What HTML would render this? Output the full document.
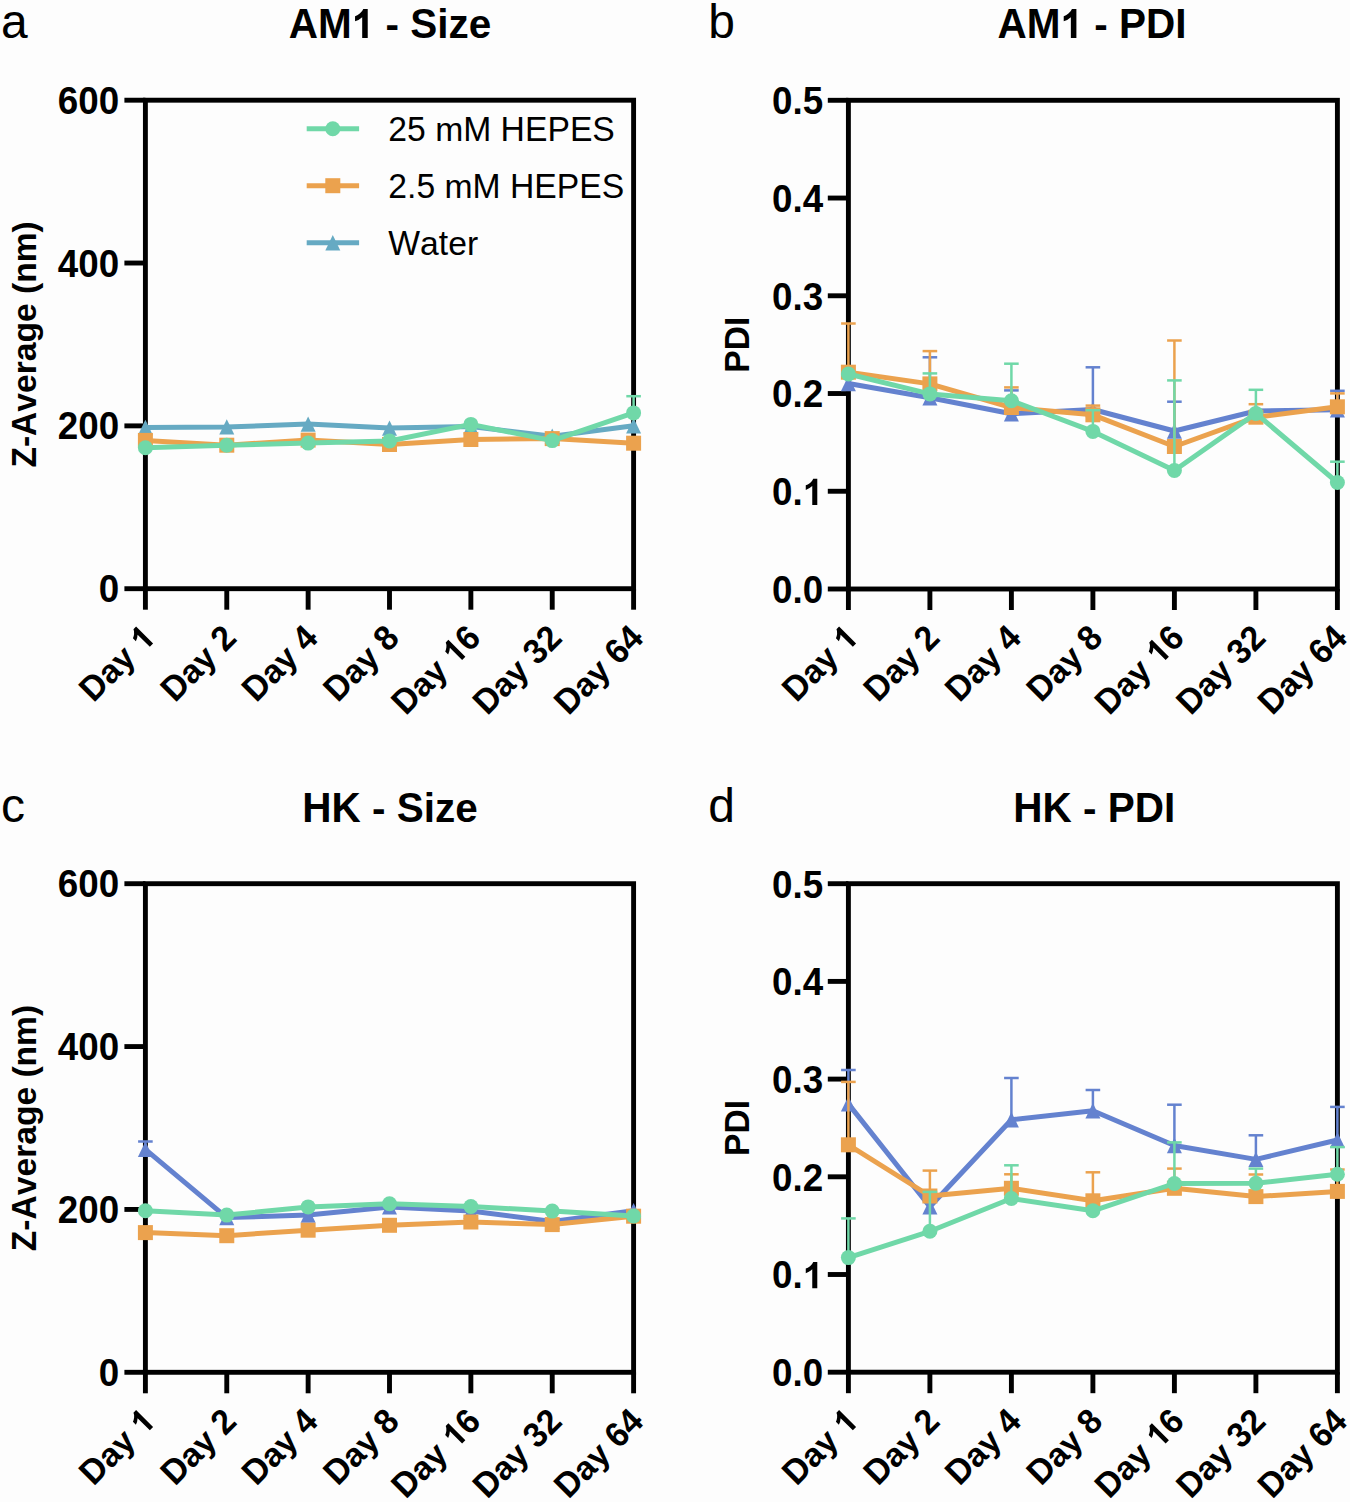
<!DOCTYPE html>
<html><head><meta charset="utf-8"><title>AM1 / HK nanoparticle stability (Z-Average and PDI)</title>
<style>
html,body{margin:0;padding:0;background:#fdfdfd;}
body{width:1350px;height:1502px;overflow:hidden;}
svg{display:block;}
text{font-family:"Liberation Sans",sans-serif;fill:#000;font-kerning:none;white-space:pre;}
.b{font-weight:bold;}
.r{font-weight:normal;}
</style></head>
<body>
<svg width="1350" height="1502" viewBox="0 0 1350 1502">
<rect x="0" y="0" width="1350" height="1502" fill="#fdfdfd"/>
<rect x="145.4" y="100.2" width="488.2" height="488.5" fill="none" stroke="#000" stroke-width="4.9" stroke-linejoin="miter"/>
<line x1="124.4" y1="588.7" x2="145.4" y2="588.7" stroke="#000" stroke-width="4.9"/>
<line x1="124.4" y1="425.87" x2="145.4" y2="425.87" stroke="#000" stroke-width="4.9"/>
<line x1="124.4" y1="263.03" x2="145.4" y2="263.03" stroke="#000" stroke-width="4.9"/>
<line x1="124.4" y1="100.2" x2="145.4" y2="100.2" stroke="#000" stroke-width="4.9"/>
<line x1="145.4" y1="588.7" x2="145.4" y2="609.7" stroke="#000" stroke-width="4.9"/>
<line x1="226.77" y1="588.7" x2="226.77" y2="609.7" stroke="#000" stroke-width="4.9"/>
<line x1="308.13" y1="588.7" x2="308.13" y2="609.7" stroke="#000" stroke-width="4.9"/>
<line x1="389.5" y1="588.7" x2="389.5" y2="609.7" stroke="#000" stroke-width="4.9"/>
<line x1="470.87" y1="588.7" x2="470.87" y2="609.7" stroke="#000" stroke-width="4.9"/>
<line x1="552.23" y1="588.7" x2="552.23" y2="609.7" stroke="#000" stroke-width="4.9"/>
<line x1="633.6" y1="588.7" x2="633.6" y2="609.7" stroke="#000" stroke-width="4.9"/>
<text transform="translate(119.2,602.3) translate(-20.469,0.000) scale(1,1.0412)" class="b" font-size="36.8">0</text>
<text transform="translate(119.2,439.47) translate(-61.406,0.000) scale(1,1.0412)" class="b" font-size="36.8">200</text>
<text transform="translate(119.2,276.63) translate(-61.406,0.000) scale(1,1.0412)" class="b" font-size="36.8">400</text>
<text transform="translate(119.2,113.8) translate(-61.406,0.000) scale(1,1.0412)" class="b" font-size="36.8">600</text>
<text transform="translate(148.4,631.3) rotate(-45) translate(0,12.03) translate(-89.609,0.000) scale(1,1.0412)" class="b" font-size="33.6">D</text><text transform="translate(148.4,631.3) rotate(-45) translate(0,12.03) translate(-65.375,0.000) scale(1,0.9855)" class="b" font-size="33.6">ay</text><path d="M810 0H530V1055Q377 912 169 843V1097Q278 1133 407 1233Q536 1333 584 1466H810Z" transform="translate(148.4,631.3) rotate(-45) translate(0,12.03) translate(-18.688,0.000) scale(0.016406,-0.016406)"/>
<text transform="translate(229.77,631.3) rotate(-45) translate(0,12.03) translate(-89.609,0.000) scale(1,1.0412)" class="b" font-size="33.6">D</text><text transform="translate(229.77,631.3) rotate(-45) translate(0,12.03) translate(-65.375,0.000) scale(1,0.9855)" class="b" font-size="33.6">ay</text><text transform="translate(229.77,631.3) rotate(-45) translate(0,12.03) translate(-18.688,0.000) scale(1,1.0412)" class="b" font-size="33.6">2</text>
<text transform="translate(311.13,631.3) rotate(-45) translate(0,12.03) translate(-89.609,0.000) scale(1,1.0412)" class="b" font-size="33.6">D</text><text transform="translate(311.13,631.3) rotate(-45) translate(0,12.03) translate(-65.375,0.000) scale(1,0.9855)" class="b" font-size="33.6">ay</text><text transform="translate(311.13,631.3) rotate(-45) translate(0,12.03) translate(-18.688,0.000) scale(1,1.0412)" class="b" font-size="33.6">4</text>
<text transform="translate(392.5,631.3) rotate(-45) translate(0,12.03) translate(-89.609,0.000) scale(1,1.0412)" class="b" font-size="33.6">D</text><text transform="translate(392.5,631.3) rotate(-45) translate(0,12.03) translate(-65.375,0.000) scale(1,0.9855)" class="b" font-size="33.6">ay</text><text transform="translate(392.5,631.3) rotate(-45) translate(0,12.03) translate(-18.688,0.000) scale(1,1.0412)" class="b" font-size="33.6">8</text>
<text transform="translate(473.87,631.3) rotate(-45) translate(0,12.03) translate(-108.281,0.000) scale(1,1.0412)" class="b" font-size="33.6">D</text><text transform="translate(473.87,631.3) rotate(-45) translate(0,12.03) translate(-84.047,0.000) scale(1,0.9855)" class="b" font-size="33.6">ay</text><path d="M810 0H530V1055Q377 912 169 843V1097Q278 1133 407 1233Q536 1333 584 1466H810Z" transform="translate(473.87,631.3) rotate(-45) translate(0,12.03) translate(-37.359,0.000) scale(0.016406,-0.016406)"/><text transform="translate(473.87,631.3) rotate(-45) translate(0,12.03) translate(-18.688,0.000) scale(1,1.0412)" class="b" font-size="33.6">6</text>
<text transform="translate(555.23,631.3) rotate(-45) translate(0,12.03) translate(-108.281,0.000) scale(1,1.0412)" class="b" font-size="33.6">D</text><text transform="translate(555.23,631.3) rotate(-45) translate(0,12.03) translate(-84.047,0.000) scale(1,0.9855)" class="b" font-size="33.6">ay</text><text transform="translate(555.23,631.3) rotate(-45) translate(0,12.03) translate(-37.359,0.000) scale(1,1.0412)" class="b" font-size="33.6">32</text>
<text transform="translate(636.6,631.3) rotate(-45) translate(0,12.03) translate(-108.281,0.000) scale(1,1.0412)" class="b" font-size="33.6">D</text><text transform="translate(636.6,631.3) rotate(-45) translate(0,12.03) translate(-84.047,0.000) scale(1,0.9855)" class="b" font-size="33.6">ay</text><text transform="translate(636.6,631.3) rotate(-45) translate(0,12.03) translate(-37.359,0.000) scale(1,1.0412)" class="b" font-size="33.6">64</text>
<text transform="translate(35.8,344.45) rotate(-90) translate(-123.141,0.000) scale(1,1.0412)" class="b" font-size="33.6">Z</text><text transform="translate(35.8,344.45) rotate(-90) translate(-102.641,0.000)" class="b" font-size="33.6">-</text><text transform="translate(35.8,344.45) rotate(-90) translate(-91.453,0.000) scale(1,1.0412)" class="b" font-size="33.6">A</text><text transform="translate(35.8,344.45) rotate(-90) translate(-67.203,0.000) scale(1,0.9855)" class="b" font-size="33.6">verage</text><text transform="translate(35.8,344.45) rotate(-90) translate(50.406,0.000) scale(1,0.9879)" class="b" font-size="33.6">(</text><text transform="translate(35.8,344.45) rotate(-90) translate(61.578,0.000) scale(1,0.9855)" class="b" font-size="33.6">nm</text><text transform="translate(35.8,344.45) rotate(-90) translate(111.953,0.000) scale(1,0.9879)" class="b" font-size="33.6">)</text>
<text transform="translate(390,38) translate(-101.273,0.000) scale(1,1.0412)" class="b" font-size="40.5">AM</text><path d="M810 0H530V1055Q377 912 169 843V1097Q278 1133 407 1233Q536 1333 584 1466H810Z" transform="translate(390,38) translate(-38.289,0.000) scale(0.019775,-0.019775)"/><text transform="translate(390,38) translate(-4.523,0.000)" class="b" font-size="40.5">-</text><text transform="translate(390,38) translate(20.227,0.000) scale(1,1.0412)" class="b" font-size="40.5">S</text><text transform="translate(390,38) translate(47.227,0.000) scale(1,0.9879)" class="b" font-size="40.5">i</text><text transform="translate(390,38) translate(58.477,0.000) scale(1,0.9855)" class="b" font-size="40.5">ze</text>
<text transform="translate(0.9,38) translate(0.000,0.000) scale(1,0.9855)" class="r" font-size="48.0">a</text>
<polyline points="145.4,427.5 226.77,426.9 308.13,424.1 389.5,428.1 470.87,426.5 552.23,436.3 633.6,425.8" fill="none" stroke="#66AAC3" stroke-width="5.0" stroke-linejoin="round"/>
<polygon points="145.4,419.8 152.9,435.2 137.9,435.2" fill="#66AAC3"/>
<polygon points="226.77,419.2 234.27,434.6 219.27,434.6" fill="#66AAC3"/>
<polygon points="308.13,416.4 315.63,431.8 300.63,431.8" fill="#66AAC3"/>
<polygon points="389.5,420.4 397,435.8 382,435.8" fill="#66AAC3"/>
<polygon points="470.87,418.8 478.37,434.2 463.37,434.2" fill="#66AAC3"/>
<polygon points="552.23,428.6 559.73,444 544.73,444" fill="#66AAC3"/>
<polygon points="633.6,418.1 641.1,433.5 626.1,433.5" fill="#66AAC3"/>
<polyline points="145.4,440.4 226.77,445.2 308.13,440.1 389.5,444.5 470.87,439.5 552.23,438.6 633.6,443.2" fill="none" stroke="#EBA24E" stroke-width="5.0" stroke-linejoin="round"/>
<rect x="137.9" y="432.9" width="15.0" height="15.0" fill="#EBA24E"/>
<rect x="219.27" y="437.7" width="15.0" height="15.0" fill="#EBA24E"/>
<rect x="300.63" y="432.6" width="15.0" height="15.0" fill="#EBA24E"/>
<rect x="382" y="437" width="15.0" height="15.0" fill="#EBA24E"/>
<rect x="463.37" y="432" width="15.0" height="15.0" fill="#EBA24E"/>
<rect x="544.73" y="431.1" width="15.0" height="15.0" fill="#EBA24E"/>
<rect x="626.1" y="435.7" width="15.0" height="15.0" fill="#EBA24E"/>
<polyline points="145.4,447.7 226.77,445.2 308.13,443.1 389.5,441 470.87,424.4 552.23,440.6 633.6,412.9" fill="none" stroke="#70D8A8" stroke-width="5.0" stroke-linejoin="round"/>
<line x1="633.6" y1="412.9" x2="633.6" y2="396.2" stroke="#70D8A8" stroke-width="2.5"/>
<line x1="626.3" y1="396.2" x2="640.9" y2="396.2" stroke="#70D8A8" stroke-width="2.5"/>
<circle cx="145.4" cy="447.7" r="7.5" fill="#70D8A8"/>
<circle cx="226.77" cy="445.2" r="7.5" fill="#70D8A8"/>
<circle cx="308.13" cy="443.1" r="7.5" fill="#70D8A8"/>
<circle cx="389.5" cy="441" r="7.5" fill="#70D8A8"/>
<circle cx="470.87" cy="424.4" r="7.5" fill="#70D8A8"/>
<circle cx="552.23" cy="440.6" r="7.5" fill="#70D8A8"/>
<circle cx="633.6" cy="412.9" r="7.5" fill="#70D8A8"/>
<rect x="848.4" y="100.3" width="489" height="488.7" fill="none" stroke="#000" stroke-width="4.9" stroke-linejoin="miter"/>
<line x1="827.8" y1="589" x2="848.4" y2="589" stroke="#000" stroke-width="4.9"/>
<line x1="827.8" y1="491.26" x2="848.4" y2="491.26" stroke="#000" stroke-width="4.9"/>
<line x1="827.8" y1="393.52" x2="848.4" y2="393.52" stroke="#000" stroke-width="4.9"/>
<line x1="827.8" y1="295.78" x2="848.4" y2="295.78" stroke="#000" stroke-width="4.9"/>
<line x1="827.8" y1="198.04" x2="848.4" y2="198.04" stroke="#000" stroke-width="4.9"/>
<line x1="827.8" y1="100.3" x2="848.4" y2="100.3" stroke="#000" stroke-width="4.9"/>
<line x1="848.4" y1="589" x2="848.4" y2="610" stroke="#000" stroke-width="4.9"/>
<line x1="929.9" y1="589" x2="929.9" y2="610" stroke="#000" stroke-width="4.9"/>
<line x1="1011.4" y1="589" x2="1011.4" y2="610" stroke="#000" stroke-width="4.9"/>
<line x1="1092.9" y1="589" x2="1092.9" y2="610" stroke="#000" stroke-width="4.9"/>
<line x1="1174.4" y1="589" x2="1174.4" y2="610" stroke="#000" stroke-width="4.9"/>
<line x1="1255.9" y1="589" x2="1255.9" y2="610" stroke="#000" stroke-width="4.9"/>
<line x1="1337.4" y1="589" x2="1337.4" y2="610" stroke="#000" stroke-width="4.9"/>
<text transform="translate(823.2,602.8) translate(-51.156,0.000) scale(1,1.0412)" class="b" font-size="36.8">0</text><text transform="translate(823.2,602.8) translate(-30.703,0.000)" class="b" font-size="36.8">.</text><text transform="translate(823.2,602.8) translate(-20.469,0.000) scale(1,1.0412)" class="b" font-size="36.8">0</text>
<text transform="translate(823.2,505.06) translate(-51.156,0.000) scale(1,1.0412)" class="b" font-size="36.8">0</text><text transform="translate(823.2,505.06) translate(-30.703,0.000)" class="b" font-size="36.8">.</text><path d="M810 0H530V1055Q377 912 169 843V1097Q278 1133 407 1233Q536 1333 584 1466H810Z" transform="translate(823.2,505.06) translate(-20.469,0.000) scale(0.017969,-0.017969)"/>
<text transform="translate(823.2,407.32) translate(-51.156,0.000) scale(1,1.0412)" class="b" font-size="36.8">0</text><text transform="translate(823.2,407.32) translate(-30.703,0.000)" class="b" font-size="36.8">.</text><text transform="translate(823.2,407.32) translate(-20.469,0.000) scale(1,1.0412)" class="b" font-size="36.8">2</text>
<text transform="translate(823.2,309.58) translate(-51.156,0.000) scale(1,1.0412)" class="b" font-size="36.8">0</text><text transform="translate(823.2,309.58) translate(-30.703,0.000)" class="b" font-size="36.8">.</text><text transform="translate(823.2,309.58) translate(-20.469,0.000) scale(1,1.0412)" class="b" font-size="36.8">3</text>
<text transform="translate(823.2,211.84) translate(-51.156,0.000) scale(1,1.0412)" class="b" font-size="36.8">0</text><text transform="translate(823.2,211.84) translate(-30.703,0.000)" class="b" font-size="36.8">.</text><text transform="translate(823.2,211.84) translate(-20.469,0.000) scale(1,1.0412)" class="b" font-size="36.8">4</text>
<text transform="translate(823.2,114.1) translate(-51.156,0.000) scale(1,1.0412)" class="b" font-size="36.8">0</text><text transform="translate(823.2,114.1) translate(-30.703,0.000)" class="b" font-size="36.8">.</text><text transform="translate(823.2,114.1) translate(-20.469,0.000) scale(1,1.0412)" class="b" font-size="36.8">5</text>
<text transform="translate(851.4,631.3) rotate(-45) translate(0,12.03) translate(-89.609,0.000) scale(1,1.0412)" class="b" font-size="33.6">D</text><text transform="translate(851.4,631.3) rotate(-45) translate(0,12.03) translate(-65.375,0.000) scale(1,0.9855)" class="b" font-size="33.6">ay</text><path d="M810 0H530V1055Q377 912 169 843V1097Q278 1133 407 1233Q536 1333 584 1466H810Z" transform="translate(851.4,631.3) rotate(-45) translate(0,12.03) translate(-18.688,0.000) scale(0.016406,-0.016406)"/>
<text transform="translate(932.9,631.3) rotate(-45) translate(0,12.03) translate(-89.609,0.000) scale(1,1.0412)" class="b" font-size="33.6">D</text><text transform="translate(932.9,631.3) rotate(-45) translate(0,12.03) translate(-65.375,0.000) scale(1,0.9855)" class="b" font-size="33.6">ay</text><text transform="translate(932.9,631.3) rotate(-45) translate(0,12.03) translate(-18.688,0.000) scale(1,1.0412)" class="b" font-size="33.6">2</text>
<text transform="translate(1014.4,631.3) rotate(-45) translate(0,12.03) translate(-89.609,0.000) scale(1,1.0412)" class="b" font-size="33.6">D</text><text transform="translate(1014.4,631.3) rotate(-45) translate(0,12.03) translate(-65.375,0.000) scale(1,0.9855)" class="b" font-size="33.6">ay</text><text transform="translate(1014.4,631.3) rotate(-45) translate(0,12.03) translate(-18.688,0.000) scale(1,1.0412)" class="b" font-size="33.6">4</text>
<text transform="translate(1095.9,631.3) rotate(-45) translate(0,12.03) translate(-89.609,0.000) scale(1,1.0412)" class="b" font-size="33.6">D</text><text transform="translate(1095.9,631.3) rotate(-45) translate(0,12.03) translate(-65.375,0.000) scale(1,0.9855)" class="b" font-size="33.6">ay</text><text transform="translate(1095.9,631.3) rotate(-45) translate(0,12.03) translate(-18.688,0.000) scale(1,1.0412)" class="b" font-size="33.6">8</text>
<text transform="translate(1177.4,631.3) rotate(-45) translate(0,12.03) translate(-108.281,0.000) scale(1,1.0412)" class="b" font-size="33.6">D</text><text transform="translate(1177.4,631.3) rotate(-45) translate(0,12.03) translate(-84.047,0.000) scale(1,0.9855)" class="b" font-size="33.6">ay</text><path d="M810 0H530V1055Q377 912 169 843V1097Q278 1133 407 1233Q536 1333 584 1466H810Z" transform="translate(1177.4,631.3) rotate(-45) translate(0,12.03) translate(-37.359,0.000) scale(0.016406,-0.016406)"/><text transform="translate(1177.4,631.3) rotate(-45) translate(0,12.03) translate(-18.688,0.000) scale(1,1.0412)" class="b" font-size="33.6">6</text>
<text transform="translate(1258.9,631.3) rotate(-45) translate(0,12.03) translate(-108.281,0.000) scale(1,1.0412)" class="b" font-size="33.6">D</text><text transform="translate(1258.9,631.3) rotate(-45) translate(0,12.03) translate(-84.047,0.000) scale(1,0.9855)" class="b" font-size="33.6">ay</text><text transform="translate(1258.9,631.3) rotate(-45) translate(0,12.03) translate(-37.359,0.000) scale(1,1.0412)" class="b" font-size="33.6">32</text>
<text transform="translate(1340.4,631.3) rotate(-45) translate(0,12.03) translate(-108.281,0.000) scale(1,1.0412)" class="b" font-size="33.6">D</text><text transform="translate(1340.4,631.3) rotate(-45) translate(0,12.03) translate(-84.047,0.000) scale(1,0.9855)" class="b" font-size="33.6">ay</text><text transform="translate(1340.4,631.3) rotate(-45) translate(0,12.03) translate(-37.359,0.000) scale(1,1.0412)" class="b" font-size="33.6">64</text>
<text transform="translate(749.2,344.65) rotate(-90) translate(-27.992,0.000) scale(1,1.0412)" class="b" font-size="33.6">PDI</text>
<text transform="translate(1091.9,38) translate(-94.508,0.000) scale(1,1.0412)" class="b" font-size="40.5">AM</text><path d="M810 0H530V1055Q377 912 169 843V1097Q278 1133 407 1233Q536 1333 584 1466H810Z" transform="translate(1091.9,38) translate(-31.523,0.000) scale(0.019775,-0.019775)"/><text transform="translate(1091.9,38) translate(2.242,0.000)" class="b" font-size="40.5">-</text><text transform="translate(1091.9,38) translate(26.992,0.000) scale(1,1.0412)" class="b" font-size="40.5">PDI</text>
<text transform="translate(708.3,38) translate(0.000,0.000) scale(1,0.9879)" class="r" font-size="48.0">b</text>
<polyline points="848.4,383.5 929.9,397.7 1011.4,413.8 1092.9,409.5 1174.4,431 1255.9,411 1337.4,409.8" fill="none" stroke="#6482CF" stroke-width="5.0" stroke-linejoin="round"/>
<line x1="929.9" y1="397.7" x2="929.9" y2="357.3" stroke="#6482CF" stroke-width="2.5"/>
<line x1="922.6" y1="357.3" x2="937.2" y2="357.3" stroke="#6482CF" stroke-width="2.5"/>
<line x1="1011.4" y1="413.8" x2="1011.4" y2="390.4" stroke="#6482CF" stroke-width="2.5"/>
<line x1="1004.1" y1="390.4" x2="1018.7" y2="390.4" stroke="#6482CF" stroke-width="2.5"/>
<line x1="1092.9" y1="409.5" x2="1092.9" y2="367.3" stroke="#6482CF" stroke-width="2.5"/>
<line x1="1085.6" y1="367.3" x2="1100.2" y2="367.3" stroke="#6482CF" stroke-width="2.5"/>
<line x1="1174.4" y1="431" x2="1174.4" y2="401.7" stroke="#6482CF" stroke-width="2.5"/>
<line x1="1167.1" y1="401.7" x2="1181.7" y2="401.7" stroke="#6482CF" stroke-width="2.5"/>
<line x1="1337.4" y1="409.8" x2="1337.4" y2="390.8" stroke="#6482CF" stroke-width="2.5"/>
<line x1="1330.1" y1="390.8" x2="1344.7" y2="390.8" stroke="#6482CF" stroke-width="2.5"/>
<polygon points="848.4,375.8 855.9,391.2 840.9,391.2" fill="#6482CF"/>
<polygon points="929.9,390 937.4,405.4 922.4,405.4" fill="#6482CF"/>
<polygon points="1011.4,406.1 1018.9,421.5 1003.9,421.5" fill="#6482CF"/>
<polygon points="1092.9,401.8 1100.4,417.2 1085.4,417.2" fill="#6482CF"/>
<polygon points="1174.4,423.3 1181.9,438.7 1166.9,438.7" fill="#6482CF"/>
<polygon points="1255.9,403.3 1263.4,418.7 1248.4,418.7" fill="#6482CF"/>
<polygon points="1337.4,402.1 1344.9,417.5 1329.9,417.5" fill="#6482CF"/>
<polyline points="848.4,372.2 929.9,383.9 1011.4,407.5 1092.9,414.8 1174.4,446.5 1255.9,417.2 1337.4,406.8" fill="none" stroke="#EBA24E" stroke-width="5.0" stroke-linejoin="round"/>
<line x1="848.4" y1="372.2" x2="848.4" y2="323.5" stroke="#EBA24E" stroke-width="2.5"/>
<line x1="841.1" y1="323.5" x2="855.7" y2="323.5" stroke="#EBA24E" stroke-width="2.5"/>
<line x1="929.9" y1="383.9" x2="929.9" y2="351.1" stroke="#EBA24E" stroke-width="2.5"/>
<line x1="922.6" y1="351.1" x2="937.2" y2="351.1" stroke="#EBA24E" stroke-width="2.5"/>
<line x1="1011.4" y1="407.5" x2="1011.4" y2="387.4" stroke="#EBA24E" stroke-width="2.5"/>
<line x1="1004.1" y1="387.4" x2="1018.7" y2="387.4" stroke="#EBA24E" stroke-width="2.5"/>
<line x1="1092.9" y1="414.8" x2="1092.9" y2="405.6" stroke="#EBA24E" stroke-width="2.5"/>
<line x1="1085.6" y1="405.6" x2="1100.2" y2="405.6" stroke="#EBA24E" stroke-width="2.5"/>
<line x1="1174.4" y1="446.5" x2="1174.4" y2="340.5" stroke="#EBA24E" stroke-width="2.5"/>
<line x1="1167.1" y1="340.5" x2="1181.7" y2="340.5" stroke="#EBA24E" stroke-width="2.5"/>
<line x1="1255.9" y1="417.2" x2="1255.9" y2="404.2" stroke="#EBA24E" stroke-width="2.5"/>
<line x1="1248.6" y1="404.2" x2="1263.2" y2="404.2" stroke="#EBA24E" stroke-width="2.5"/>
<line x1="1337.4" y1="406.8" x2="1337.4" y2="393.4" stroke="#EBA24E" stroke-width="2.5"/>
<line x1="1330.1" y1="393.4" x2="1344.7" y2="393.4" stroke="#EBA24E" stroke-width="2.5"/>
<rect x="840.9" y="364.7" width="15.0" height="15.0" fill="#EBA24E"/>
<rect x="922.4" y="376.4" width="15.0" height="15.0" fill="#EBA24E"/>
<rect x="1003.9" y="400" width="15.0" height="15.0" fill="#EBA24E"/>
<rect x="1085.4" y="407.3" width="15.0" height="15.0" fill="#EBA24E"/>
<rect x="1166.9" y="439" width="15.0" height="15.0" fill="#EBA24E"/>
<rect x="1248.4" y="409.7" width="15.0" height="15.0" fill="#EBA24E"/>
<rect x="1329.9" y="399.3" width="15.0" height="15.0" fill="#EBA24E"/>
<polyline points="848.4,374 929.9,393.9 1011.4,400.7 1092.9,431.4 1174.4,470.5 1255.9,413.4 1337.4,482.5" fill="none" stroke="#70D8A8" stroke-width="5.0" stroke-linejoin="round"/>
<line x1="929.9" y1="393.9" x2="929.9" y2="373.4" stroke="#70D8A8" stroke-width="2.5"/>
<line x1="922.6" y1="373.4" x2="937.2" y2="373.4" stroke="#70D8A8" stroke-width="2.5"/>
<line x1="1011.4" y1="400.7" x2="1011.4" y2="363.7" stroke="#70D8A8" stroke-width="2.5"/>
<line x1="1004.1" y1="363.7" x2="1018.7" y2="363.7" stroke="#70D8A8" stroke-width="2.5"/>
<line x1="1092.9" y1="431.4" x2="1092.9" y2="410.2" stroke="#70D8A8" stroke-width="2.5"/>
<line x1="1085.6" y1="410.2" x2="1100.2" y2="410.2" stroke="#70D8A8" stroke-width="2.5"/>
<line x1="1174.4" y1="470.5" x2="1174.4" y2="380.4" stroke="#70D8A8" stroke-width="2.5"/>
<line x1="1167.1" y1="380.4" x2="1181.7" y2="380.4" stroke="#70D8A8" stroke-width="2.5"/>
<line x1="1255.9" y1="413.4" x2="1255.9" y2="389.8" stroke="#70D8A8" stroke-width="2.5"/>
<line x1="1248.6" y1="389.8" x2="1263.2" y2="389.8" stroke="#70D8A8" stroke-width="2.5"/>
<line x1="1337.4" y1="482.5" x2="1337.4" y2="461.7" stroke="#70D8A8" stroke-width="2.5"/>
<line x1="1330.1" y1="461.7" x2="1344.7" y2="461.7" stroke="#70D8A8" stroke-width="2.5"/>
<circle cx="848.4" cy="374" r="7.5" fill="#70D8A8"/>
<circle cx="929.9" cy="393.9" r="7.5" fill="#70D8A8"/>
<circle cx="1011.4" cy="400.7" r="7.5" fill="#70D8A8"/>
<circle cx="1092.9" cy="431.4" r="7.5" fill="#70D8A8"/>
<circle cx="1174.4" cy="470.5" r="7.5" fill="#70D8A8"/>
<circle cx="1255.9" cy="413.4" r="7.5" fill="#70D8A8"/>
<circle cx="1337.4" cy="482.5" r="7.5" fill="#70D8A8"/>
<rect x="145.4" y="883.7" width="488.2" height="488.6" fill="none" stroke="#000" stroke-width="4.9" stroke-linejoin="miter"/>
<line x1="124.4" y1="1372.3" x2="145.4" y2="1372.3" stroke="#000" stroke-width="4.9"/>
<line x1="124.4" y1="1209.43" x2="145.4" y2="1209.43" stroke="#000" stroke-width="4.9"/>
<line x1="124.4" y1="1046.57" x2="145.4" y2="1046.57" stroke="#000" stroke-width="4.9"/>
<line x1="124.4" y1="883.7" x2="145.4" y2="883.7" stroke="#000" stroke-width="4.9"/>
<line x1="145.4" y1="1372.3" x2="145.4" y2="1393.3" stroke="#000" stroke-width="4.9"/>
<line x1="226.77" y1="1372.3" x2="226.77" y2="1393.3" stroke="#000" stroke-width="4.9"/>
<line x1="308.13" y1="1372.3" x2="308.13" y2="1393.3" stroke="#000" stroke-width="4.9"/>
<line x1="389.5" y1="1372.3" x2="389.5" y2="1393.3" stroke="#000" stroke-width="4.9"/>
<line x1="470.87" y1="1372.3" x2="470.87" y2="1393.3" stroke="#000" stroke-width="4.9"/>
<line x1="552.23" y1="1372.3" x2="552.23" y2="1393.3" stroke="#000" stroke-width="4.9"/>
<line x1="633.6" y1="1372.3" x2="633.6" y2="1393.3" stroke="#000" stroke-width="4.9"/>
<text transform="translate(119.2,1385.9) translate(-20.469,0.000) scale(1,1.0412)" class="b" font-size="36.8">0</text>
<text transform="translate(119.2,1223.03) translate(-61.406,0.000) scale(1,1.0412)" class="b" font-size="36.8">200</text>
<text transform="translate(119.2,1060.17) translate(-61.406,0.000) scale(1,1.0412)" class="b" font-size="36.8">400</text>
<text transform="translate(119.2,897.3) translate(-61.406,0.000) scale(1,1.0412)" class="b" font-size="36.8">600</text>
<text transform="translate(148.4,1414.8) rotate(-45) translate(0,12.03) translate(-89.609,0.000) scale(1,1.0412)" class="b" font-size="33.6">D</text><text transform="translate(148.4,1414.8) rotate(-45) translate(0,12.03) translate(-65.375,0.000) scale(1,0.9855)" class="b" font-size="33.6">ay</text><path d="M810 0H530V1055Q377 912 169 843V1097Q278 1133 407 1233Q536 1333 584 1466H810Z" transform="translate(148.4,1414.8) rotate(-45) translate(0,12.03) translate(-18.688,0.000) scale(0.016406,-0.016406)"/>
<text transform="translate(229.77,1414.8) rotate(-45) translate(0,12.03) translate(-89.609,0.000) scale(1,1.0412)" class="b" font-size="33.6">D</text><text transform="translate(229.77,1414.8) rotate(-45) translate(0,12.03) translate(-65.375,0.000) scale(1,0.9855)" class="b" font-size="33.6">ay</text><text transform="translate(229.77,1414.8) rotate(-45) translate(0,12.03) translate(-18.688,0.000) scale(1,1.0412)" class="b" font-size="33.6">2</text>
<text transform="translate(311.13,1414.8) rotate(-45) translate(0,12.03) translate(-89.609,0.000) scale(1,1.0412)" class="b" font-size="33.6">D</text><text transform="translate(311.13,1414.8) rotate(-45) translate(0,12.03) translate(-65.375,0.000) scale(1,0.9855)" class="b" font-size="33.6">ay</text><text transform="translate(311.13,1414.8) rotate(-45) translate(0,12.03) translate(-18.688,0.000) scale(1,1.0412)" class="b" font-size="33.6">4</text>
<text transform="translate(392.5,1414.8) rotate(-45) translate(0,12.03) translate(-89.609,0.000) scale(1,1.0412)" class="b" font-size="33.6">D</text><text transform="translate(392.5,1414.8) rotate(-45) translate(0,12.03) translate(-65.375,0.000) scale(1,0.9855)" class="b" font-size="33.6">ay</text><text transform="translate(392.5,1414.8) rotate(-45) translate(0,12.03) translate(-18.688,0.000) scale(1,1.0412)" class="b" font-size="33.6">8</text>
<text transform="translate(473.87,1414.8) rotate(-45) translate(0,12.03) translate(-108.281,0.000) scale(1,1.0412)" class="b" font-size="33.6">D</text><text transform="translate(473.87,1414.8) rotate(-45) translate(0,12.03) translate(-84.047,0.000) scale(1,0.9855)" class="b" font-size="33.6">ay</text><path d="M810 0H530V1055Q377 912 169 843V1097Q278 1133 407 1233Q536 1333 584 1466H810Z" transform="translate(473.87,1414.8) rotate(-45) translate(0,12.03) translate(-37.359,0.000) scale(0.016406,-0.016406)"/><text transform="translate(473.87,1414.8) rotate(-45) translate(0,12.03) translate(-18.688,0.000) scale(1,1.0412)" class="b" font-size="33.6">6</text>
<text transform="translate(555.23,1414.8) rotate(-45) translate(0,12.03) translate(-108.281,0.000) scale(1,1.0412)" class="b" font-size="33.6">D</text><text transform="translate(555.23,1414.8) rotate(-45) translate(0,12.03) translate(-84.047,0.000) scale(1,0.9855)" class="b" font-size="33.6">ay</text><text transform="translate(555.23,1414.8) rotate(-45) translate(0,12.03) translate(-37.359,0.000) scale(1,1.0412)" class="b" font-size="33.6">32</text>
<text transform="translate(636.6,1414.8) rotate(-45) translate(0,12.03) translate(-108.281,0.000) scale(1,1.0412)" class="b" font-size="33.6">D</text><text transform="translate(636.6,1414.8) rotate(-45) translate(0,12.03) translate(-84.047,0.000) scale(1,0.9855)" class="b" font-size="33.6">ay</text><text transform="translate(636.6,1414.8) rotate(-45) translate(0,12.03) translate(-37.359,0.000) scale(1,1.0412)" class="b" font-size="33.6">64</text>
<text transform="translate(35.8,1128) rotate(-90) translate(-123.141,0.000) scale(1,1.0412)" class="b" font-size="33.6">Z</text><text transform="translate(35.8,1128) rotate(-90) translate(-102.641,0.000)" class="b" font-size="33.6">-</text><text transform="translate(35.8,1128) rotate(-90) translate(-91.453,0.000) scale(1,1.0412)" class="b" font-size="33.6">A</text><text transform="translate(35.8,1128) rotate(-90) translate(-67.203,0.000) scale(1,0.9855)" class="b" font-size="33.6">verage</text><text transform="translate(35.8,1128) rotate(-90) translate(50.406,0.000) scale(1,0.9879)" class="b" font-size="33.6">(</text><text transform="translate(35.8,1128) rotate(-90) translate(61.578,0.000) scale(1,0.9855)" class="b" font-size="33.6">nm</text><text transform="translate(35.8,1128) rotate(-90) translate(111.953,0.000) scale(1,0.9879)" class="b" font-size="33.6">)</text>
<text transform="translate(390,821.5) translate(-87.766,0.000) scale(1,1.0412)" class="b" font-size="40.5">HK</text><text transform="translate(390,821.5) translate(-18.031,0.000)" class="b" font-size="40.5">-</text><text transform="translate(390,821.5) translate(6.719,0.000) scale(1,1.0412)" class="b" font-size="40.5">S</text><text transform="translate(390,821.5) translate(33.734,0.000) scale(1,0.9879)" class="b" font-size="40.5">i</text><text transform="translate(390,821.5) translate(44.984,0.000) scale(1,0.9855)" class="b" font-size="40.5">ze</text>
<text transform="translate(0.9,821.5) translate(0.000,0.000) scale(1,0.9855)" class="r" font-size="48.0">c</text>
<polyline points="145.4,1149.3 226.77,1217.6 308.13,1215 389.5,1206.9 470.87,1211 552.23,1221.5 633.6,1210.8" fill="none" stroke="#6482CF" stroke-width="5.0" stroke-linejoin="round"/>
<line x1="145.4" y1="1149.3" x2="145.4" y2="1141.5" stroke="#6482CF" stroke-width="2.5"/>
<line x1="138.1" y1="1141.5" x2="152.7" y2="1141.5" stroke="#6482CF" stroke-width="2.5"/>
<polygon points="145.4,1141.6 152.9,1157 137.9,1157" fill="#6482CF"/>
<polygon points="226.77,1209.9 234.27,1225.3 219.27,1225.3" fill="#6482CF"/>
<polygon points="308.13,1207.3 315.63,1222.7 300.63,1222.7" fill="#6482CF"/>
<polygon points="389.5,1199.2 397,1214.6 382,1214.6" fill="#6482CF"/>
<polygon points="470.87,1203.3 478.37,1218.7 463.37,1218.7" fill="#6482CF"/>
<polygon points="552.23,1213.8 559.73,1229.2 544.73,1229.2" fill="#6482CF"/>
<polygon points="633.6,1203.1 641.1,1218.5 626.1,1218.5" fill="#6482CF"/>
<polyline points="145.4,1232.6 226.77,1235.7 308.13,1230.2 389.5,1225.3 470.87,1222 552.23,1224.6 633.6,1216.2" fill="none" stroke="#EBA24E" stroke-width="5.0" stroke-linejoin="round"/>
<rect x="137.9" y="1225.1" width="15.0" height="15.0" fill="#EBA24E"/>
<rect x="219.27" y="1228.2" width="15.0" height="15.0" fill="#EBA24E"/>
<rect x="300.63" y="1222.7" width="15.0" height="15.0" fill="#EBA24E"/>
<rect x="382" y="1217.8" width="15.0" height="15.0" fill="#EBA24E"/>
<rect x="463.37" y="1214.5" width="15.0" height="15.0" fill="#EBA24E"/>
<rect x="544.73" y="1217.1" width="15.0" height="15.0" fill="#EBA24E"/>
<rect x="626.1" y="1208.7" width="15.0" height="15.0" fill="#EBA24E"/>
<polyline points="145.4,1210.8 226.77,1215.1 308.13,1206.9 389.5,1203.7 470.87,1206.5 552.23,1211.1 633.6,1216" fill="none" stroke="#70D8A8" stroke-width="5.0" stroke-linejoin="round"/>
<circle cx="145.4" cy="1210.8" r="7.5" fill="#70D8A8"/>
<circle cx="226.77" cy="1215.1" r="7.5" fill="#70D8A8"/>
<circle cx="308.13" cy="1206.9" r="7.5" fill="#70D8A8"/>
<circle cx="389.5" cy="1203.7" r="7.5" fill="#70D8A8"/>
<circle cx="470.87" cy="1206.5" r="7.5" fill="#70D8A8"/>
<circle cx="552.23" cy="1211.1" r="7.5" fill="#70D8A8"/>
<circle cx="633.6" cy="1216" r="7.5" fill="#70D8A8"/>
<rect x="848.4" y="883.7" width="489" height="488.5" fill="none" stroke="#000" stroke-width="4.9" stroke-linejoin="miter"/>
<line x1="827.8" y1="1372.2" x2="848.4" y2="1372.2" stroke="#000" stroke-width="4.9"/>
<line x1="827.8" y1="1274.5" x2="848.4" y2="1274.5" stroke="#000" stroke-width="4.9"/>
<line x1="827.8" y1="1176.8" x2="848.4" y2="1176.8" stroke="#000" stroke-width="4.9"/>
<line x1="827.8" y1="1079.1" x2="848.4" y2="1079.1" stroke="#000" stroke-width="4.9"/>
<line x1="827.8" y1="981.4" x2="848.4" y2="981.4" stroke="#000" stroke-width="4.9"/>
<line x1="827.8" y1="883.7" x2="848.4" y2="883.7" stroke="#000" stroke-width="4.9"/>
<line x1="848.4" y1="1372.2" x2="848.4" y2="1393.2" stroke="#000" stroke-width="4.9"/>
<line x1="929.9" y1="1372.2" x2="929.9" y2="1393.2" stroke="#000" stroke-width="4.9"/>
<line x1="1011.4" y1="1372.2" x2="1011.4" y2="1393.2" stroke="#000" stroke-width="4.9"/>
<line x1="1092.9" y1="1372.2" x2="1092.9" y2="1393.2" stroke="#000" stroke-width="4.9"/>
<line x1="1174.4" y1="1372.2" x2="1174.4" y2="1393.2" stroke="#000" stroke-width="4.9"/>
<line x1="1255.9" y1="1372.2" x2="1255.9" y2="1393.2" stroke="#000" stroke-width="4.9"/>
<line x1="1337.4" y1="1372.2" x2="1337.4" y2="1393.2" stroke="#000" stroke-width="4.9"/>
<text transform="translate(823.2,1386) translate(-51.156,0.000) scale(1,1.0412)" class="b" font-size="36.8">0</text><text transform="translate(823.2,1386) translate(-30.703,0.000)" class="b" font-size="36.8">.</text><text transform="translate(823.2,1386) translate(-20.469,0.000) scale(1,1.0412)" class="b" font-size="36.8">0</text>
<text transform="translate(823.2,1288.3) translate(-51.156,0.000) scale(1,1.0412)" class="b" font-size="36.8">0</text><text transform="translate(823.2,1288.3) translate(-30.703,0.000)" class="b" font-size="36.8">.</text><path d="M810 0H530V1055Q377 912 169 843V1097Q278 1133 407 1233Q536 1333 584 1466H810Z" transform="translate(823.2,1288.3) translate(-20.469,0.000) scale(0.017969,-0.017969)"/>
<text transform="translate(823.2,1190.6) translate(-51.156,0.000) scale(1,1.0412)" class="b" font-size="36.8">0</text><text transform="translate(823.2,1190.6) translate(-30.703,0.000)" class="b" font-size="36.8">.</text><text transform="translate(823.2,1190.6) translate(-20.469,0.000) scale(1,1.0412)" class="b" font-size="36.8">2</text>
<text transform="translate(823.2,1092.9) translate(-51.156,0.000) scale(1,1.0412)" class="b" font-size="36.8">0</text><text transform="translate(823.2,1092.9) translate(-30.703,0.000)" class="b" font-size="36.8">.</text><text transform="translate(823.2,1092.9) translate(-20.469,0.000) scale(1,1.0412)" class="b" font-size="36.8">3</text>
<text transform="translate(823.2,995.2) translate(-51.156,0.000) scale(1,1.0412)" class="b" font-size="36.8">0</text><text transform="translate(823.2,995.2) translate(-30.703,0.000)" class="b" font-size="36.8">.</text><text transform="translate(823.2,995.2) translate(-20.469,0.000) scale(1,1.0412)" class="b" font-size="36.8">4</text>
<text transform="translate(823.2,897.5) translate(-51.156,0.000) scale(1,1.0412)" class="b" font-size="36.8">0</text><text transform="translate(823.2,897.5) translate(-30.703,0.000)" class="b" font-size="36.8">.</text><text transform="translate(823.2,897.5) translate(-20.469,0.000) scale(1,1.0412)" class="b" font-size="36.8">5</text>
<text transform="translate(851.4,1414.8) rotate(-45) translate(0,12.03) translate(-89.609,0.000) scale(1,1.0412)" class="b" font-size="33.6">D</text><text transform="translate(851.4,1414.8) rotate(-45) translate(0,12.03) translate(-65.375,0.000) scale(1,0.9855)" class="b" font-size="33.6">ay</text><path d="M810 0H530V1055Q377 912 169 843V1097Q278 1133 407 1233Q536 1333 584 1466H810Z" transform="translate(851.4,1414.8) rotate(-45) translate(0,12.03) translate(-18.688,0.000) scale(0.016406,-0.016406)"/>
<text transform="translate(932.9,1414.8) rotate(-45) translate(0,12.03) translate(-89.609,0.000) scale(1,1.0412)" class="b" font-size="33.6">D</text><text transform="translate(932.9,1414.8) rotate(-45) translate(0,12.03) translate(-65.375,0.000) scale(1,0.9855)" class="b" font-size="33.6">ay</text><text transform="translate(932.9,1414.8) rotate(-45) translate(0,12.03) translate(-18.688,0.000) scale(1,1.0412)" class="b" font-size="33.6">2</text>
<text transform="translate(1014.4,1414.8) rotate(-45) translate(0,12.03) translate(-89.609,0.000) scale(1,1.0412)" class="b" font-size="33.6">D</text><text transform="translate(1014.4,1414.8) rotate(-45) translate(0,12.03) translate(-65.375,0.000) scale(1,0.9855)" class="b" font-size="33.6">ay</text><text transform="translate(1014.4,1414.8) rotate(-45) translate(0,12.03) translate(-18.688,0.000) scale(1,1.0412)" class="b" font-size="33.6">4</text>
<text transform="translate(1095.9,1414.8) rotate(-45) translate(0,12.03) translate(-89.609,0.000) scale(1,1.0412)" class="b" font-size="33.6">D</text><text transform="translate(1095.9,1414.8) rotate(-45) translate(0,12.03) translate(-65.375,0.000) scale(1,0.9855)" class="b" font-size="33.6">ay</text><text transform="translate(1095.9,1414.8) rotate(-45) translate(0,12.03) translate(-18.688,0.000) scale(1,1.0412)" class="b" font-size="33.6">8</text>
<text transform="translate(1177.4,1414.8) rotate(-45) translate(0,12.03) translate(-108.281,0.000) scale(1,1.0412)" class="b" font-size="33.6">D</text><text transform="translate(1177.4,1414.8) rotate(-45) translate(0,12.03) translate(-84.047,0.000) scale(1,0.9855)" class="b" font-size="33.6">ay</text><path d="M810 0H530V1055Q377 912 169 843V1097Q278 1133 407 1233Q536 1333 584 1466H810Z" transform="translate(1177.4,1414.8) rotate(-45) translate(0,12.03) translate(-37.359,0.000) scale(0.016406,-0.016406)"/><text transform="translate(1177.4,1414.8) rotate(-45) translate(0,12.03) translate(-18.688,0.000) scale(1,1.0412)" class="b" font-size="33.6">6</text>
<text transform="translate(1258.9,1414.8) rotate(-45) translate(0,12.03) translate(-108.281,0.000) scale(1,1.0412)" class="b" font-size="33.6">D</text><text transform="translate(1258.9,1414.8) rotate(-45) translate(0,12.03) translate(-84.047,0.000) scale(1,0.9855)" class="b" font-size="33.6">ay</text><text transform="translate(1258.9,1414.8) rotate(-45) translate(0,12.03) translate(-37.359,0.000) scale(1,1.0412)" class="b" font-size="33.6">32</text>
<text transform="translate(1340.4,1414.8) rotate(-45) translate(0,12.03) translate(-108.281,0.000) scale(1,1.0412)" class="b" font-size="33.6">D</text><text transform="translate(1340.4,1414.8) rotate(-45) translate(0,12.03) translate(-84.047,0.000) scale(1,0.9855)" class="b" font-size="33.6">ay</text><text transform="translate(1340.4,1414.8) rotate(-45) translate(0,12.03) translate(-37.359,0.000) scale(1,1.0412)" class="b" font-size="33.6">64</text>
<text transform="translate(749.2,1127.95) rotate(-90) translate(-27.992,0.000) scale(1,1.0412)" class="b" font-size="33.6">PDI</text>
<text transform="translate(1094.2,821.5) translate(-81.000,0.000) scale(1,1.0412)" class="b" font-size="40.5">HK</text><text transform="translate(1094.2,821.5) translate(-11.266,0.000)" class="b" font-size="40.5">-</text><text transform="translate(1094.2,821.5) translate(13.484,0.000) scale(1,1.0412)" class="b" font-size="40.5">PDI</text>
<text transform="translate(708.3,821.5) translate(0.000,0.000) scale(1,0.9879)" class="r" font-size="48.0">d</text>
<polyline points="848.4,1103.9 929.9,1206.7 1011.4,1119.7 1092.9,1110.8 1174.4,1145.5 1255.9,1159.4 1337.4,1140" fill="none" stroke="#6482CF" stroke-width="5.0" stroke-linejoin="round"/>
<line x1="848.4" y1="1103.9" x2="848.4" y2="1070" stroke="#6482CF" stroke-width="2.5"/>
<line x1="841.1" y1="1070" x2="855.7" y2="1070" stroke="#6482CF" stroke-width="2.5"/>
<line x1="1011.4" y1="1119.7" x2="1011.4" y2="1078" stroke="#6482CF" stroke-width="2.5"/>
<line x1="1004.1" y1="1078" x2="1018.7" y2="1078" stroke="#6482CF" stroke-width="2.5"/>
<line x1="1092.9" y1="1110.8" x2="1092.9" y2="1090" stroke="#6482CF" stroke-width="2.5"/>
<line x1="1085.6" y1="1090" x2="1100.2" y2="1090" stroke="#6482CF" stroke-width="2.5"/>
<line x1="1174.4" y1="1145.5" x2="1174.4" y2="1104.7" stroke="#6482CF" stroke-width="2.5"/>
<line x1="1167.1" y1="1104.7" x2="1181.7" y2="1104.7" stroke="#6482CF" stroke-width="2.5"/>
<line x1="1255.9" y1="1159.4" x2="1255.9" y2="1135.3" stroke="#6482CF" stroke-width="2.5"/>
<line x1="1248.6" y1="1135.3" x2="1263.2" y2="1135.3" stroke="#6482CF" stroke-width="2.5"/>
<line x1="1337.4" y1="1140" x2="1337.4" y2="1106.9" stroke="#6482CF" stroke-width="2.5"/>
<line x1="1330.1" y1="1106.9" x2="1344.7" y2="1106.9" stroke="#6482CF" stroke-width="2.5"/>
<polygon points="848.4,1096.2 855.9,1111.6 840.9,1111.6" fill="#6482CF"/>
<polygon points="929.9,1199 937.4,1214.4 922.4,1214.4" fill="#6482CF"/>
<polygon points="1011.4,1112 1018.9,1127.4 1003.9,1127.4" fill="#6482CF"/>
<polygon points="1092.9,1103.1 1100.4,1118.5 1085.4,1118.5" fill="#6482CF"/>
<polygon points="1174.4,1137.8 1181.9,1153.2 1166.9,1153.2" fill="#6482CF"/>
<polygon points="1255.9,1151.7 1263.4,1167.1 1248.4,1167.1" fill="#6482CF"/>
<polygon points="1337.4,1132.3 1344.9,1147.7 1329.9,1147.7" fill="#6482CF"/>
<polyline points="848.4,1144.8 929.9,1196 1011.4,1188.3 1092.9,1200.8 1174.4,1188.3 1255.9,1196.6 1337.4,1191.4" fill="none" stroke="#EBA24E" stroke-width="5.0" stroke-linejoin="round"/>
<line x1="848.4" y1="1144.8" x2="848.4" y2="1081.9" stroke="#EBA24E" stroke-width="2.5"/>
<line x1="841.1" y1="1081.9" x2="855.7" y2="1081.9" stroke="#EBA24E" stroke-width="2.5"/>
<line x1="929.9" y1="1196" x2="929.9" y2="1170.6" stroke="#EBA24E" stroke-width="2.5"/>
<line x1="922.6" y1="1170.6" x2="937.2" y2="1170.6" stroke="#EBA24E" stroke-width="2.5"/>
<line x1="1011.4" y1="1188.3" x2="1011.4" y2="1174.3" stroke="#EBA24E" stroke-width="2.5"/>
<line x1="1004.1" y1="1174.3" x2="1018.7" y2="1174.3" stroke="#EBA24E" stroke-width="2.5"/>
<line x1="1092.9" y1="1200.8" x2="1092.9" y2="1172.3" stroke="#EBA24E" stroke-width="2.5"/>
<line x1="1085.6" y1="1172.3" x2="1100.2" y2="1172.3" stroke="#EBA24E" stroke-width="2.5"/>
<line x1="1174.4" y1="1188.3" x2="1174.4" y2="1168.6" stroke="#EBA24E" stroke-width="2.5"/>
<line x1="1167.1" y1="1168.6" x2="1181.7" y2="1168.6" stroke="#EBA24E" stroke-width="2.5"/>
<line x1="1255.9" y1="1196.6" x2="1255.9" y2="1174.5" stroke="#EBA24E" stroke-width="2.5"/>
<line x1="1248.6" y1="1174.5" x2="1263.2" y2="1174.5" stroke="#EBA24E" stroke-width="2.5"/>
<line x1="1337.4" y1="1191.4" x2="1337.4" y2="1169.5" stroke="#EBA24E" stroke-width="2.5"/>
<line x1="1330.1" y1="1169.5" x2="1344.7" y2="1169.5" stroke="#EBA24E" stroke-width="2.5"/>
<rect x="840.9" y="1137.3" width="15.0" height="15.0" fill="#EBA24E"/>
<rect x="922.4" y="1188.5" width="15.0" height="15.0" fill="#EBA24E"/>
<rect x="1003.9" y="1180.8" width="15.0" height="15.0" fill="#EBA24E"/>
<rect x="1085.4" y="1193.3" width="15.0" height="15.0" fill="#EBA24E"/>
<rect x="1166.9" y="1180.8" width="15.0" height="15.0" fill="#EBA24E"/>
<rect x="1248.4" y="1189.1" width="15.0" height="15.0" fill="#EBA24E"/>
<rect x="1329.9" y="1183.9" width="15.0" height="15.0" fill="#EBA24E"/>
<polyline points="848.4,1257.6 929.9,1231.3 1011.4,1198.5 1092.9,1210.8 1174.4,1183.5 1255.9,1183.3 1337.4,1174.3" fill="none" stroke="#70D8A8" stroke-width="5.0" stroke-linejoin="round"/>
<line x1="848.4" y1="1257.6" x2="848.4" y2="1218.4" stroke="#70D8A8" stroke-width="2.5"/>
<line x1="841.1" y1="1218.4" x2="855.7" y2="1218.4" stroke="#70D8A8" stroke-width="2.5"/>
<line x1="929.9" y1="1231.3" x2="929.9" y2="1191.9" stroke="#70D8A8" stroke-width="2.5"/>
<line x1="922.6" y1="1191.9" x2="937.2" y2="1191.9" stroke="#70D8A8" stroke-width="2.5"/>
<line x1="1011.4" y1="1198.5" x2="1011.4" y2="1165.3" stroke="#70D8A8" stroke-width="2.5"/>
<line x1="1004.1" y1="1165.3" x2="1018.7" y2="1165.3" stroke="#70D8A8" stroke-width="2.5"/>
<line x1="1174.4" y1="1183.5" x2="1174.4" y2="1142.4" stroke="#70D8A8" stroke-width="2.5"/>
<line x1="1167.1" y1="1142.4" x2="1181.7" y2="1142.4" stroke="#70D8A8" stroke-width="2.5"/>
<line x1="1255.9" y1="1183.3" x2="1255.9" y2="1168.6" stroke="#70D8A8" stroke-width="2.5"/>
<line x1="1248.6" y1="1168.6" x2="1263.2" y2="1168.6" stroke="#70D8A8" stroke-width="2.5"/>
<line x1="1337.4" y1="1174.3" x2="1337.4" y2="1147.1" stroke="#70D8A8" stroke-width="2.5"/>
<line x1="1330.1" y1="1147.1" x2="1344.7" y2="1147.1" stroke="#70D8A8" stroke-width="2.5"/>
<circle cx="848.4" cy="1257.6" r="7.5" fill="#70D8A8"/>
<circle cx="929.9" cy="1231.3" r="7.5" fill="#70D8A8"/>
<circle cx="1011.4" cy="1198.5" r="7.5" fill="#70D8A8"/>
<circle cx="1092.9" cy="1210.8" r="7.5" fill="#70D8A8"/>
<circle cx="1174.4" cy="1183.5" r="7.5" fill="#70D8A8"/>
<circle cx="1255.9" cy="1183.3" r="7.5" fill="#70D8A8"/>
<circle cx="1337.4" cy="1174.3" r="7.5" fill="#70D8A8"/>
<line x1="306.7" y1="128.7" x2="359.1" y2="128.7" stroke="#70D8A8" stroke-width="5.0"/>
<circle cx="332.8" cy="128.7" r="7.5" fill="#70D8A8"/>
<text transform="translate(388.3,140.5) translate(0.000,0.000) scale(1,1.0412)" class="r" font-size="33.7">25</text><text transform="translate(388.3,140.5) translate(46.828,0.000) scale(1,0.9855)" class="r" font-size="33.7">m</text><text transform="translate(388.3,140.5) translate(74.891,0.000) scale(1,1.0412)" class="r" font-size="33.7">M</text><text transform="translate(388.3,140.5) translate(112.312,0.000) scale(1,1.0412)" class="r" font-size="33.7">HEPES</text>
<line x1="306.7" y1="185.7" x2="359.1" y2="185.7" stroke="#EBA24E" stroke-width="5.0"/>
<rect x="325.3" y="178.2" width="15.0" height="15.0" fill="#EBA24E"/>
<text transform="translate(388.3,197.5) translate(0.000,0.000) scale(1,1.0412)" class="r" font-size="33.7">2</text><text transform="translate(388.3,197.5) translate(18.734,0.000)" class="r" font-size="33.7">.</text><text transform="translate(388.3,197.5) translate(28.094,0.000) scale(1,1.0412)" class="r" font-size="33.7">5</text><text transform="translate(388.3,197.5) translate(56.188,0.000) scale(1,0.9855)" class="r" font-size="33.7">m</text><text transform="translate(388.3,197.5) translate(84.250,0.000) scale(1,1.0412)" class="r" font-size="33.7">M</text><text transform="translate(388.3,197.5) translate(121.672,0.000) scale(1,1.0412)" class="r" font-size="33.7">HEPES</text>
<line x1="306.7" y1="242.7" x2="359.1" y2="242.7" stroke="#66AAC3" stroke-width="5.0"/>
<polygon points="332.8,235 340.3,250.4 325.3,250.4" fill="#66AAC3"/>
<text transform="translate(388.3,254.5) translate(0.000,0.000) scale(1,1.0412)" class="r" font-size="33.7">W</text><text transform="translate(388.3,254.5) translate(31.781,0.000) scale(1,0.9855)" class="r" font-size="33.7">a</text><text transform="translate(388.3,254.5) translate(50.531,0.000) scale(1,1.0412)" class="r" font-size="33.7">t</text><text transform="translate(388.3,254.5) translate(59.891,0.000) scale(1,0.9855)" class="r" font-size="33.7">er</text>
</svg>
</body></html>
